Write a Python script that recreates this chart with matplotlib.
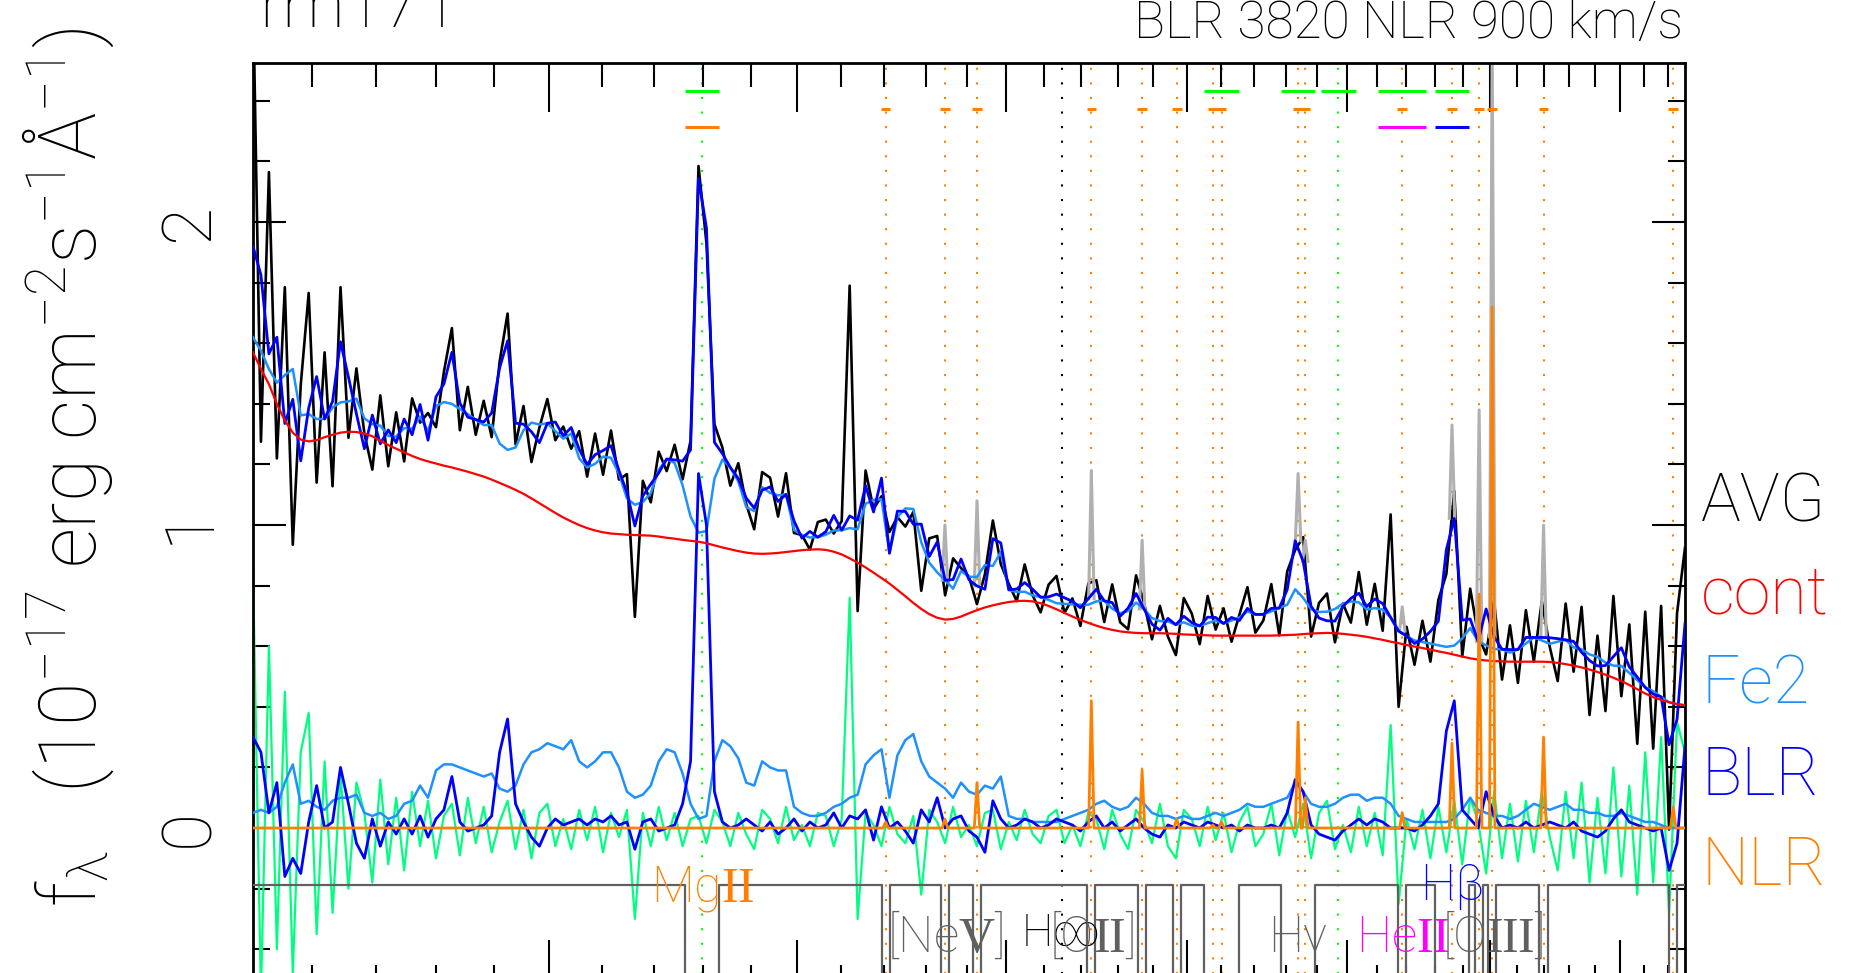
import numpy as np
import matplotlib.pyplot as plt
from matplotlib.ticker import FixedLocator, NullFormatter

plt.rcParams['font.family'] = ['Roboto', 'DejaVu Sans']
plt.rcParams['font.weight'] = 'light'
plt.rcParams['mathtext.fontset'] = 'custom'
plt.rcParams['mathtext.rm'] = 'Liberation Serif'
plt.rcParams['mathtext.sf'] = 'Roboto:light'
plt.rcParams['mathtext.it'] = 'Roboto:italic:light'

# ---- spectrum (rest frame, log-spaced pixels) ----
wave_min, wave_max, npix = 2010., 5771., 181
blr_fwhm = 3820
nlr_fwhm = 900

cont = [1.570, 1.515, 1.465, 1.400, 1.345, 1.305, 1.282, 1.276, 1.280, 1.290,
        1.298, 1.305, 1.308, 1.307, 1.302, 1.293, 1.278, 1.264, 1.252, 1.240,
        1.228, 1.218, 1.210, 1.203, 1.196, 1.190, 1.183, 1.176, 1.168, 1.160,
        1.150, 1.139, 1.128, 1.116, 1.103, 1.088, 1.072, 1.056, 1.040, 1.025,
        1.012, 1.000, 0.990, 0.982, 0.976, 0.972, 0.970, 0.968, 0.967, 0.966,
        0.965, 0.962, 0.958, 0.955, 0.951, 0.948, 0.945, 0.940, 0.933, 0.926,
        0.920, 0.914, 0.909, 0.906, 0.905, 0.906, 0.908, 0.911, 0.914, 0.917,
        0.919, 0.920, 0.918, 0.912, 0.903, 0.890, 0.876, 0.860, 0.843, 0.825,
        0.807, 0.786, 0.765, 0.743, 0.723, 0.706, 0.694, 0.688, 0.690, 0.698,
        0.709, 0.719, 0.728, 0.735, 0.741, 0.746, 0.749, 0.750, 0.748, 0.742,
        0.733, 0.722, 0.710, 0.698, 0.687, 0.677, 0.668, 0.660, 0.654, 0.649,
        0.646, 0.644, 0.643, 0.643, 0.643, 0.642, 0.641, 0.639, 0.638, 0.637,
        0.636, 0.635, 0.635, 0.635, 0.635, 0.635, 0.635, 0.635, 0.635, 0.636,
        0.637, 0.638, 0.640, 0.642, 0.643, 0.644, 0.643, 0.641, 0.638, 0.635,
        0.631, 0.626, 0.621, 0.615, 0.610, 0.604, 0.599, 0.594, 0.589, 0.583,
        0.578, 0.572, 0.566, 0.560, 0.556, 0.553, 0.551, 0.550, 0.549, 0.549,
        0.549, 0.549, 0.549, 0.548, 0.545, 0.541, 0.536, 0.530, 0.523, 0.515,
        0.506, 0.496, 0.485, 0.472, 0.458, 0.444, 0.432, 0.423, 0.415, 0.409,
        0.405]

fe2 = [0.05, 0.06, 0.05, 0.07, 0.15, 0.21, 0.08, 0.09, 0.07, 0.06,
       0.09, 0.10, 0.10, 0.11, 0.05, 0.04, 0.05, 0.03, 0.04, 0.08,
       0.09, 0.14, 0.10, 0.19, 0.21, 0.21, 0.20, 0.19, 0.18, 0.17,
       0.18, 0.13, 0.12, 0.14, 0.21, 0.25, 0.26, 0.28, 0.27, 0.26,
       0.29, 0.22, 0.20, 0.22, 0.25, 0.25, 0.20, 0.12, 0.10, 0.11,
       0.14, 0.22, 0.26, 0.25, 0.18, 0.08, 0.03, 0.04, 0.22, 0.29,
       0.27, 0.23, 0.15, 0.14, 0.22, 0.20, 0.19, 0.19, 0.07, 0.05,
       0.04, 0.04, 0.05, 0.07, 0.08, 0.10, 0.11, 0.21, 0.24, 0.26,
       0.10, 0.24, 0.29, 0.31, 0.22, 0.17, 0.15, 0.13, 0.10, 0.15,
       0.12, 0.11, 0.14, 0.13, 0.17, 0.04, 0.03, 0.03, 0.02, 0.02,
       0.02, 0.02, 0.03, 0.04, 0.05, 0.06, 0.08, 0.09, 0.07, 0.06,
       0.07, 0.10, 0.08, 0.05, 0.04, 0.04, 0.03, 0.04, 0.03, 0.03,
       0.04, 0.05, 0.04, 0.05, 0.06, 0.08, 0.07, 0.07, 0.08, 0.09,
       0.10, 0.15, 0.12, 0.08, 0.07, 0.07, 0.08, 0.10, 0.11, 0.11,
       0.09, 0.10, 0.10, 0.08, 0.04, 0.03, 0.02, 0.02, 0.02, 0.02,
       0.02, 0.03, 0.06, 0.10, 0.06, 0.05, 0.04, 0.04, 0.03, 0.04,
       0.06, 0.08, 0.07, 0.06, 0.07, 0.08, 0.06, 0.06, 0.05, 0.05,
       0.04, 0.04, 0.05, 0.04, 0.03, 0.02, 0.02, 0.01, 0.00, 0.00,
       0.00]

blr = [0.30, 0.25, 0.05, 0.15, -0.16, -0.10, -0.15, 0.02, 0.14, 0.00,
       0.02, 0.20, 0.08, -0.05, -0.10, 0.03, -0.06, 0.02, -0.02, 0.03,
       -0.02, 0.04, -0.03, 0.03, 0.06, 0.17, 0.02, -0.01, 0.00, 0.01,
       0.04, 0.25, 0.36, 0.08, 0.02, -0.03, -0.06, 0.00, 0.03, 0.01,
       0.02, 0.03, 0.01, 0.03, 0.02, 0.04, 0.01, 0.02, -0.07, 0.02,
       0.03, -0.01, 0.00, 0.01, 0.08, 0.22, 1.17, 1.00, 0.12, 0.02,
       0.00, 0.01, 0.03, 0.01, -0.01, 0.02, -0.02, 0.00, 0.03, -0.01,
       0.02, 0.00, 0.01, 0.05, 0.00, 0.04, 0.03, 0.06, -0.04, 0.07,
       0.00, 0.02, -0.01, -0.05, 0.06, 0.02, 0.10, 0.00, 0.03, 0.04,
       -0.01, -0.03, -0.08, 0.09, 0.03, 0.00, 0.01, 0.03, 0.02, 0.00,
       0.01, 0.03, 0.02, 0.01, -0.01, 0.02, 0.04, 0.00, 0.02, -0.01,
       0.01, 0.03, 0.00, -0.02, -0.03, 0.01, 0.00, 0.02, 0.01, 0.00,
       0.02, 0.01, 0.00, 0.01, -0.01, 0.01, 0.00, 0.00, 0.01, 0.00,
       0.05, 0.16, 0.12, 0.01, -0.02, -0.03, -0.04, -0.01, 0.01, 0.03,
       0.01, 0.03, 0.02, 0.00, 0.00, 0.00, -0.01, 0.01, 0.04, 0.08,
       0.32, 0.42, 0.06, 0.03, 0.00, 0.12, 0.04, 0.00, 0.01, 0.00,
       0.02, 0.00, 0.01, 0.02, 0.01, 0.00, 0.02, -0.01, -0.02, -0.03,
       -0.01, 0.03, 0.06, 0.02, 0.01, 0.00, -0.01, 0.00, -0.14, -0.05,
       0.27]

resid = [0.85, -0.55, 0.60, -0.40, 0.45, -0.48, 0.25, 0.38, -0.35, 0.22,
         -0.28, 0.18, -0.20, 0.15, 0.05, -0.18, 0.16, -0.12, 0.10, -0.14,
         0.12, -0.06, 0.09, -0.10, 0.04, 0.08, -0.09, 0.10, -0.05, 0.07,
         -0.08, 0.02, 0.09, -0.07, 0.06, -0.10, 0.05, 0.08, -0.06, 0.03,
         -0.07, 0.06, -0.04, 0.07, -0.08, 0.05, -0.03, 0.06, -0.30, 0.05,
         -0.06, 0.07, -0.04, 0.05, -0.06, 0.03, 0.04, -0.05, 0.06, 0.02,
         -0.06, 0.05, -0.02, -0.07, 0.06, 0.03, -0.05, 0.07, -0.04, 0.01,
         -0.06, 0.05, 0.04, -0.06, 0.03, 0.76, -0.30, 0.05, 0.01, -0.06,
         0.07, -0.02, -0.05, 0.04, -0.22, 0.06, 0.02, -0.05, 0.07, -0.03,
         0.01, -0.06, 0.05, 0.06, -0.07, 0.02, -0.04, 0.06, -0.02, -0.05,
         0.04, 0.06, -0.05, 0.01, -0.06, 0.05, 0.03, -0.07, 0.06, -0.02,
         -0.07, 0.06, 0.02, -0.05, 0.08, -0.06, -0.10, 0.06, 0.03, -0.06,
         0.07, -0.04, 0.05, -0.08, 0.02, 0.07, -0.06, -0.02, 0.08, -0.09,
         0.06, -0.03, 0.08, -0.10, 0.05, 0.09, -0.07, 0.01, -0.08, 0.07,
         -0.06, 0.05, -0.09, 0.34, -0.25, 0.03, -0.07, 0.06, -0.10, 0.07,
         -0.08, 0.09, -0.12, 0.10, 0.02, -0.15, 0.12, -0.10, 0.08, -0.11,
         0.09, -0.08, 0.12, -0.03, -0.14, 0.12, -0.10, 0.15, -0.18, 0.10,
         -0.15, 0.20, -0.16, 0.14, -0.22, 0.25, -0.18, 0.30, -0.28, 0.35,
         0.25]

# narrow lines (NLR): wavelength, peak in lower panel, top of grey spike above
nlr_wave = [3203, 3346, 3426, 3727, 3869, 3969, 4076, 4102, 4340, 4363,
            4686, 4861, 4959, 5007, 5200, 5721]
nlr_peak = [0.02, 0.03, 0.15, 0.42, 0.19, 0.03, 0.01, 0.02, 0.35, 0.10,
            0.05, 0.28, 0.77, 1.72, 0.30, 0.07]
grey_top = [0.0, 1.00, 1.08, 1.18, 0.95, 0.0, 0.0, 0.0, 1.17, 0.95,
            0.73, 1.33, 1.38, 2.60, 1.00, 0.0]

# broad lines (BLR) marked at the top; half-width of the marker in km/s
blr_wave = [2798, 4102, 4340, 4471, 4686, 4861]
blr_halfv = [3820, 3820, 3820, 3820, 5200, 3820]
masked_broad = [2798, 4102, 4340, 4861]
balmer_limit = 3646

# third row of markers: MgII, HeII, Hbeta
row3_wave = [2798, 4686, 4861]
row3_halfv = [3820, 5200, 3820]
row3_col = ['#ff8000', '#ff00ff', '#0000ff']

C_KMS = 299792.458
orange = '#ff8000'
lblue = '#1e90ff'
grey = '#606060'

wave = np.geomspace(wave_min, wave_max, npix)
cont = np.array(cont)
fe2 = np.array(fe2)
blr = np.array(blr)
resid = np.array(resid)
model = cont + fe2 + blr
data = model + resid

fig = plt.figure(figsize=(18.63, 9.73), dpi=100)
ax = fig.add_axes([253 / 1863, 1 - 988.6 / 973, 1432 / 1863, (988.6 - 63) / 973])
ax.set_xscale('log')
ax.set_xlim(wave_min, wave_max)
ax.set_ylim(-0.53, 2.525)

# vertical line markers
for w in nlr_wave:
    ax.axvline(w, color=orange, ls=(0, (1, 6)), lw=1.5, zorder=1)
for w in blr_wave:
    if w not in nlr_wave:
        ax.axvline(w, color='#00ff00', ls=(0, (1, 6)), lw=1.5, zorder=1)
ax.axvline(balmer_limit, color='k', ls=(0, (1, 6)), lw=1.5, zorder=1)

# top bars
for w, v in zip(blr_wave, blr_halfv):
    ax.plot([w * (1 - v / C_KMS), w * (1 + v / C_KMS)], [2.432, 2.432],
            color='#00ff00', lw=2.2, solid_capstyle='butt', zorder=6)
for w in nlr_wave:
    ax.plot([w * (1 - 1050 / C_KMS), w * (1 + 1050 / C_KMS)], [2.373, 2.373],
            color=orange, lw=2.2, solid_capstyle='butt', zorder=6)
for w, v, c in zip(row3_wave, row3_halfv, row3_col):
    ax.plot([w * (1 - v / C_KMS), w * (1 + v / C_KMS)], [2.313, 2.313],
            color=c, lw=2.2, solid_capstyle='butt', zorder=6)

# upper panel
ax.plot(wave, data, color='k', lw=1.9, zorder=2)
for w, top in zip(nlr_wave, grey_top):
    k = np.argmin(np.abs(wave - w))
    if top > model[k]:
        dw = w * 600 / C_KMS
        ax.plot([w - dw, w, w + dw], [model[k], top, model[k]],
                color='#b0b0b0', lw=2.2, zorder=2.5)
ax.plot(wave, cont + fe2, color=lblue, lw=1.8, zorder=3)
ax.plot(wave, model, color='#0000ff', lw=2.0, zorder=4)
ax.plot(wave, cont, color='#ff0000', lw=1.6, zorder=5)

# lower panel
ax.plot(wave, resid, color='#00ff80', lw=1.6, zorder=2.2)
ax.plot(wave, fe2, color=lblue, lw=1.8, zorder=3)
ax.plot(wave, blr, color='#0000ff', lw=2.0, zorder=4)
nx, ny = [wave_min], [0.0]
for w, p in zip(nlr_wave, nlr_peak):
    dw = w * 600 / C_KMS
    nx += [w - dw, w, w + dw]
    ny += [0.0, p, 0.0]
nx.append(wave_max)
ny.append(0.0)
ax.plot(nx, ny, color=orange, lw=2.0, zorder=5)

# fitting mask (grey line with notches)
wins = [(w * (1 - nlr_fwhm / C_KMS), w * (1 + nlr_fwhm / C_KMS)) for w in nlr_wave]
wins += [(w * (1 - blr_fwhm / C_KMS), w * (1 + blr_fwhm / C_KMS)) for w in masked_broad]
wins.sort()
merged = []
for a, b in wins:
    if merged and a <= merged[-1][1]:
        merged[-1][1] = max(merged[-1][1], b)
    else:
        merged.append([a, b])
mx, my = [wave_min], [-0.188]
for a, b in merged:
    mx += [a, a, b, b]
    my += [-0.188, -0.8, -0.8, -0.188]
mx.append(wave_max)
my.append(-0.188)
ax.plot(mx, my, color=grey, lw=1.6, zorder=3)

# line labels
ax.text(2798, -0.243, r'Mg$\mathrm{II}$', color=orange, fontsize=36, ha='center', va='baseline')
ax.text(4861, -0.237, 'Hβ', color='#0000ff', fontsize=36, ha='center', va='baseline')
ax.text(3346, -0.41, r'[Ne$\mathrm{V}$]', color=grey, fontsize=36, ha='center', va='baseline')
ax.text(balmer_limit, -0.39, 'H∞', color='k', fontsize=32, ha='center', va='baseline',
        family=['Roboto', 'DejaVu Sans'])
ax.text(3727, -0.41, r'[O$\mathrm{II}$]', color=grey, fontsize=36, ha='center', va='baseline')
ax.text(4340, -0.41, 'Hγ', color=grey, fontsize=36, ha='center', va='baseline')
ax.text(4686, -0.41, r'He$\mathrm{II}$', color='#ff00ff', fontsize=36, ha='center', va='baseline')
ax.text(5007, -0.41, r'[O$\mathrm{III}$]', color=grey, fontsize=36, ha='center', va='baseline')

# axes styling
ax.xaxis.set_major_locator(FixedLocator(np.arange(2500, 6000, 500)))
ax.xaxis.set_minor_locator(FixedLocator(np.arange(2100, 5800, 100)))
ax.xaxis.set_major_formatter(NullFormatter())
ax.xaxis.set_minor_formatter(NullFormatter())
ax.yaxis.set_major_locator(FixedLocator([0, 1, 2]))
ax.yaxis.set_minor_locator(FixedLocator(np.arange(-0.4, 2.6, 0.2)))
ax.tick_params(axis='x', which='major', direction='in', length=35, width=1.5,
               top=True, bottom=True, labelbottom=False)
ax.tick_params(axis='x', which='minor', direction='in', length=17.5, width=1.5,
               top=True, bottom=True)
ax.tick_params(axis='y', which='major', direction='in', length=24, width=1.5,
               left=True, right=True, labelsize=50, pad=22, labelrotation=90)
ax.tick_params(axis='y', which='minor', direction='in', length=12, width=1.5,
               left=True, right=True)
for lab in ax.get_yticklabels():
    lab.set_va('center')
for s in ax.spines.values():
    s.set_linewidth(2)

# y label, written in two pieces so the wide spacing of the original can be kept
ylab_x = 96 / 1863
fig.text(ylab_x, 1 - 590 / 973, r'f$_{\mathsf{λ}}$   (10$^{\mathsf{-17}}$',
         rotation=90, rotation_mode='anchor', fontsize=57, ha='right', va='baseline')
fig.text(ylab_x, 1 - 568 / 973,
         r'erg cm$^{\mathsf{-2}}$s$^{\mathsf{-1}}$Å$^{\mathsf{-1}}$)',
         rotation=90, rotation_mode='anchor', fontsize=57, ha='left', va='baseline')

fig.text(259 / 1863, 1 - 27 / 973, 'rm171', fontsize=50, ha='left', va='baseline')
fig.text(1683 / 1863, 1 - 38 / 973, 'BLR %d NLR %d km/s' % (blr_fwhm, nlr_fwhm),
         fontsize=37, ha='right', va='baseline')

legend_names = ['AVG', 'cont', 'Fe2', 'BLR', 'NLR']
legend_cols = ['k', '#ff0000', lblue, '#0000ff', orange]
legend_base = [521, 613, 703, 795, 885]
for name, col, yb in zip(legend_names, legend_cols, legend_base):
    fig.text(1701 / 1863, 1 - yb / 973, name, color=col, fontsize=48,
             ha='left', va='baseline')

fig.savefig('out.png', dpi=100)
